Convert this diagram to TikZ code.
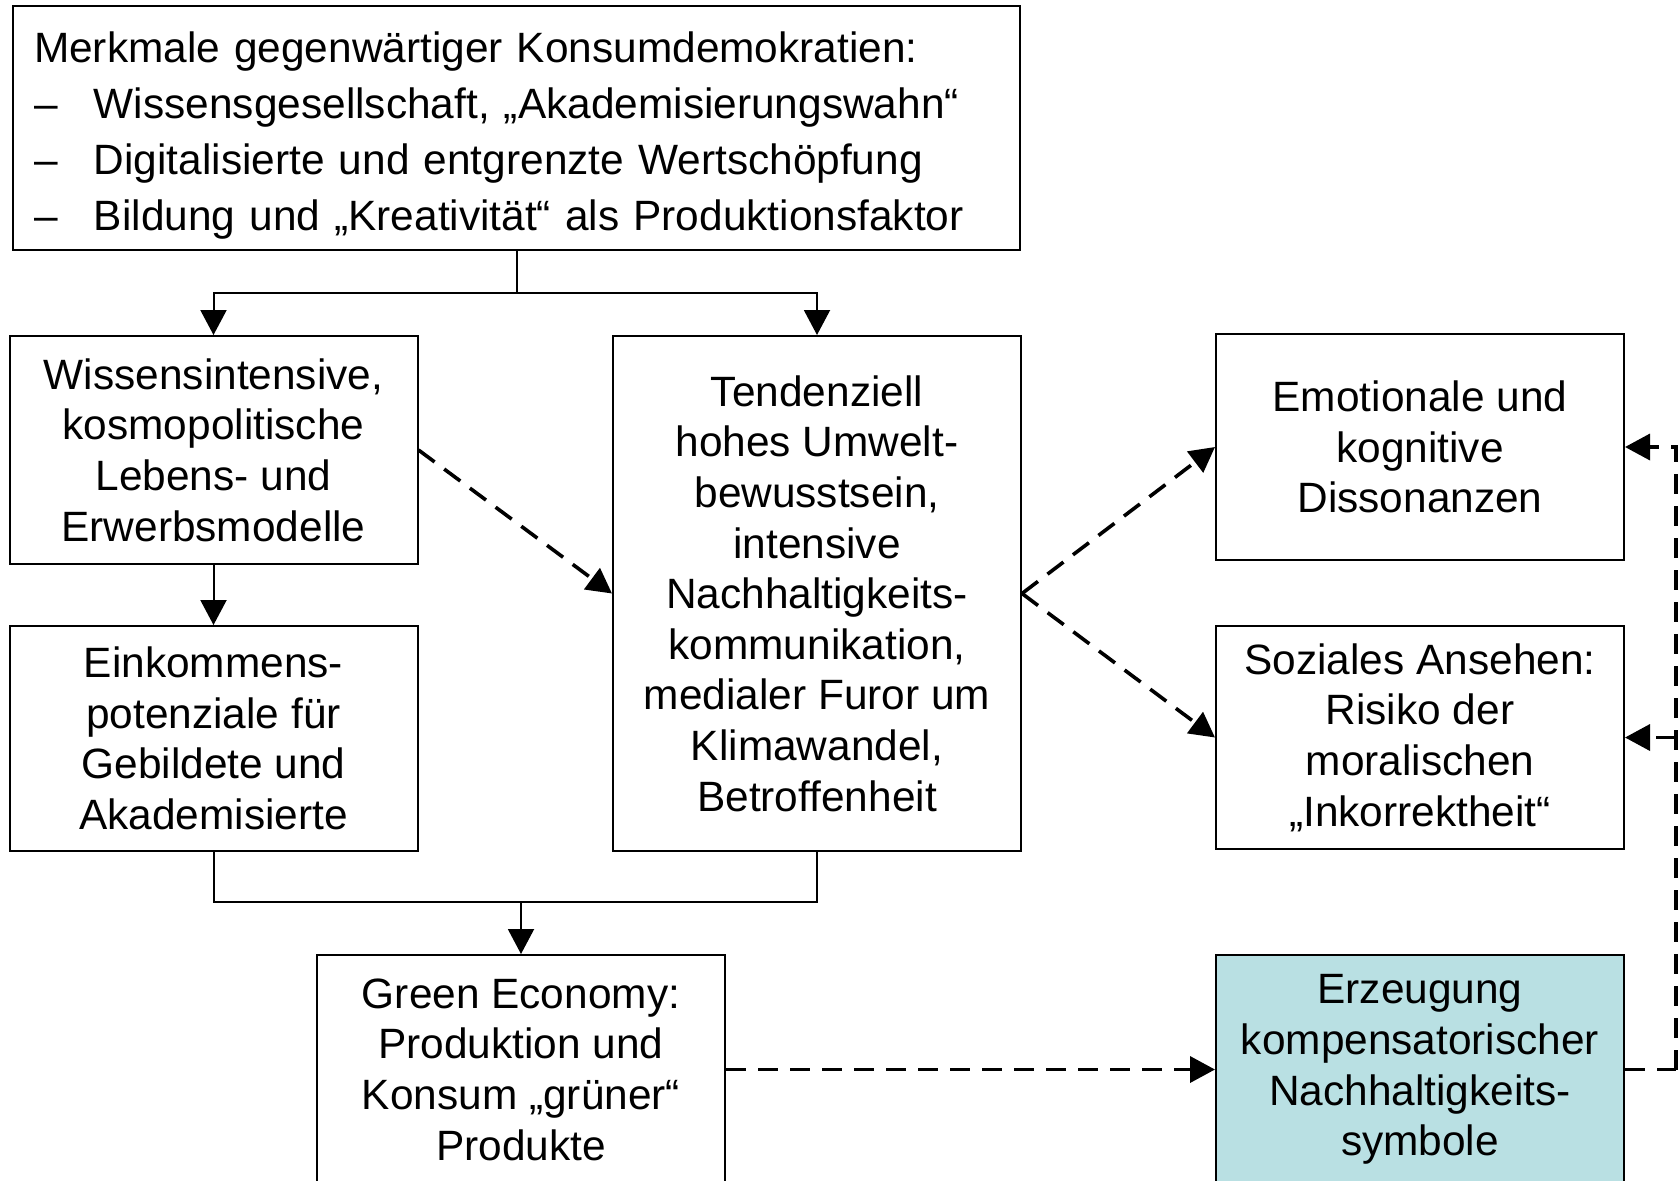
\documentclass[tikz,border=0pt]{standalone}
\usepackage{fontspec}
\setmainfont{Liberation Sans}
\usetikzlibrary{arrows.meta}
\definecolor{tealfill}{RGB}{185,224,227}
\begin{document}
\begin{tikzpicture}[x=0.5pt,y=-0.5pt,
  box/.style={draw=black, line width=1pt, inner sep=0pt, align=center,
    font=\fontsize{21.2}{25.3}\selectfont, minimum width=204pt},
  conn/.style={line width=1pt},
  tip/.style={-{Triangle[length=12.5pt,width=13pt]}},
  arr/.style={line width=1pt, tip},
  dline/.style={line width=1.8pt, dash pattern=on 10pt off 6pt},
  darr/.style={dline, tip},
]
\useasboundingbox (0,0) rectangle (1680,1180);

\node[box, minimum width=503.5pt, minimum height=122pt] (T) at (516.5,128) {};
\node[inner sep=0pt, text width=482.5pt, align=left,
      font=\fontsize{21.2}{28}\selectfont, anchor=center] (Ttext) at (516.5,135.5)
  {Merkmale gegenwärtiger Konsumdemokratien:\\
   \makebox[30pt][l]{–}Wissensgesellschaft, „Akademisierungswahn“\\
   \makebox[30pt][l]{–}Digitalisierte und entgrenzte Wertschöpfung\\
   \makebox[30pt][l]{–}Bildung und „Kreativität“ als Produktionsfaktor};

\node[box, minimum height=114pt] (A) at (213.5,450)
  {Wissensintensive,\\kosmopolitische\\Lebens- und\\Erwerbsmodelle};
\node[box, minimum height=257.5pt] (B) at (817,593.5)
  {Tendenziell\\hohes Umwelt-\\bewusstsein,\\intensive\\Nachhaltigkeits-\\kommunikation,\\medialer Furor um\\Klimawandel,\\Betroffenheit};
\node[box, minimum height=112.5pt] (C) at (213.5,738.5)
  {Einkommens-\\potenziale für\\Gebildete und\\Akademisierte};
\node[box, minimum height=113pt] (E) at (1420,447)
  {Emotionale und\\kognitive\\Dissonanzen};
\node[box, minimum height=111.5pt] (S) at (1420,737.5)
  {Soziales Ansehen:\\Risiko der\\moralischen\\„Inkorrektheit“};
\node[box, minimum height=114.5pt] (G) at (521,1069.5)
  {Green Economy:\\Produktion und\\Konsum „grüner“\\Produkte};
\node[box, minimum height=114.5pt, fill=tealfill] (K) at (1420,1069.5)
  {Erzeugung\\kompensatorischer\\Nachhaltigkeits-\\symbole};

% split from top box
\draw[conn] (T.south) -- ++(0,42) coordinate (s1);
\draw[arr] (s1) -| (A.north);
\draw[arr] (s1) -| (B.north);

% A to C
\draw[arr] (A.south) -- (C.north);

% merge to G
\draw[conn] (C.south) -- ++(0,50) coordinate (m1) -- (m1 -| B.south) -- (B.south);
\draw[arr] (m1 -| G.north) -- (G.north);

% dashed arrows
\draw[darr] (A.east) -- (B.west);
\draw[darr] (B.east) -- (E.west);
\draw[darr] (B.east) -- (S.west);
\draw[darr] (G.east) -- (K.west);

% feedback on the right
\draw[dline] (K.east) -- ++(51,0) coordinate (r1);
\draw[darr] (r1) |- (E.east);
\draw[darr] (r1 |- S.east) -- (S.east);
\end{tikzpicture}
\end{document}
